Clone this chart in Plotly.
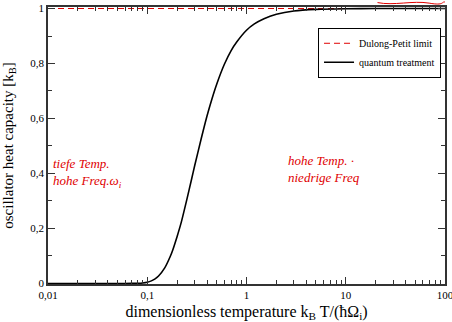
import math
import plotly.graph_objects as go

# values
temp = [0.01, 0.03, 0.05, 0.07, 0.08, 0.09, 0.1, 0.11, 0.12, 0.13, 0.15, 0.17, 0.18, 0.2, 0.22, 0.25,
        0.28, 0.3, 0.35, 0.4, 0.45, 0.5, 0.6, 0.7, 0.8, 1.0, 1.2, 1.5, 2.0, 3.0, 5.0, 10.0, 20.0, 50.0, 100.0]
heat = [0.0, 0.0, 0.0, 0.0001, 0.0006, 0.0019, 0.0045, 0.0094, 0.0167, 0.027, 0.0565, 0.097, 0.120, 0.171,
        0.222, 0.304, 0.380, 0.427, 0.527, 0.609, 0.673, 0.724, 0.798, 0.847, 0.879, 0.921, 0.944, 0.963,
        0.979, 0.991, 0.9967, 0.9992, 0.9998, 1.0, 1.0]
dp_x = [0.01, 100]
dp_y = [1, 1]

xt_vals = [0.01, 0.1, 1, 10, 100]
xt_text = ["0,01", "0,1", "1", "10", "100"]
yt_vals = [0, 0.2, 0.4, 0.6, 0.8, 1.0]
yt_text = ["0", "0,2", "0,4", "0,6", "0,8", "1"]
x_minor = [m * d for d in [0.01, 0.1, 1, 10] for m in range(2, 10)]
y_minor = [0.1, 0.3, 0.5, 0.7, 0.9]

note_left = "tiefe Temp.<br>hohe Freq.ω<sub>i</sub>"
note_right = "hohe Temp. ·<br>niedrige Freq"

serif = "Liberation Serif, Times New Roman, serif"
fig = go.Figure()
fig.add_trace(go.Scatter(x=dp_x, y=dp_y, mode="lines", name="Dulong-Petit limit",
                         line=dict(color="#e00000", width=1, dash="6px,4px")))
fig.add_trace(go.Scatter(x=temp, y=heat, mode="lines", name="quantum treatment",
                         line=dict(color="black", width=1.6, shape="spline", smoothing=0.6)))

fig.update_layout(
    width=452, height=322,
    margin=dict(l=48, r=7, t=7, b=38, autoexpand=False),
    paper_bgcolor="white", plot_bgcolor="white",
    font=dict(family=serif, size=11, color="black"),
    showlegend=True,
    legend=dict(x=0.99, y=0.925, xanchor="right", yanchor="top",
                bordercolor="black", borderwidth=1, bgcolor="white",
                font=dict(family=serif, size=10), tracegroupgap=0,
                itemwidth=30),
    xaxis=dict(type="log", range=[-2, 2], tickmode="array", tickvals=xt_vals, ticktext=xt_text,
               ticks="inside", ticklen=7, tickwidth=1, tickcolor="#333", automargin=False,
               ticklabeloverflow="allow",
               showline=True, linecolor="#333", linewidth=1.5, mirror="ticks",
               showgrid=False, zeroline=False, tickfont=dict(size=11),
               minor=dict(tickmode="array", tickvals=x_minor, ticks="inside", ticklen=4,
                          tickcolor="#333", showgrid=False),
               title=dict(text="dimensionless temperature k<sub>B</sub> T/(ħΩ<sub>i</sub>)",
                          font=dict(size=16))),
    yaxis=dict(range=[-0.002, 1.0055], tickmode="array", tickvals=yt_vals, ticktext=yt_text,
               ticks="inside", ticklen=7, tickwidth=1, tickcolor="#333", automargin=False,
               showline=True, linecolor="#333", linewidth=1.5, mirror="ticks",
               showgrid=False, zeroline=False, tickfont=dict(size=11),
               minor=dict(tickmode="array", tickvals=y_minor, ticks="inside", ticklen=4,
                          tickcolor="#333", showgrid=False),
               title=dict(text="oscillator heat capacity [k<sub>B</sub>]",
                          font=dict(size=15))),
)

fig.add_annotation(x=math.log10(0.0108), y=0.40, xref="x", yref="y", xanchor="left", yanchor="middle",
                   text="<i>" + note_left + "</i>", showarrow=False, align="left",
                   font=dict(family=serif, size=13, color="#e00000"))
fig.add_annotation(x=math.log10(2.5), y=0.415, xref="x", yref="y", xanchor="left", yanchor="middle",
                   text="<i>" + note_right + "</i>", showarrow=False, align="left",
                   font=dict(family=serif, size=13, color="#e00000"))
fig.add_shape(type="path", xref="paper", yref="paper",
              path="M 0.83 1.016 C 0.87 1.004, 0.92 1.024, 0.96 1.014 S 0.99 1.02, 1.0 1.018",
              line=dict(color="#e00000", width=1))

fig.write_html("out.html", config={"displayModeBar": False},
               post_script="document.body.style.margin='0';document.body.style.padding='0';document.body.style.overflow='hidden';")
